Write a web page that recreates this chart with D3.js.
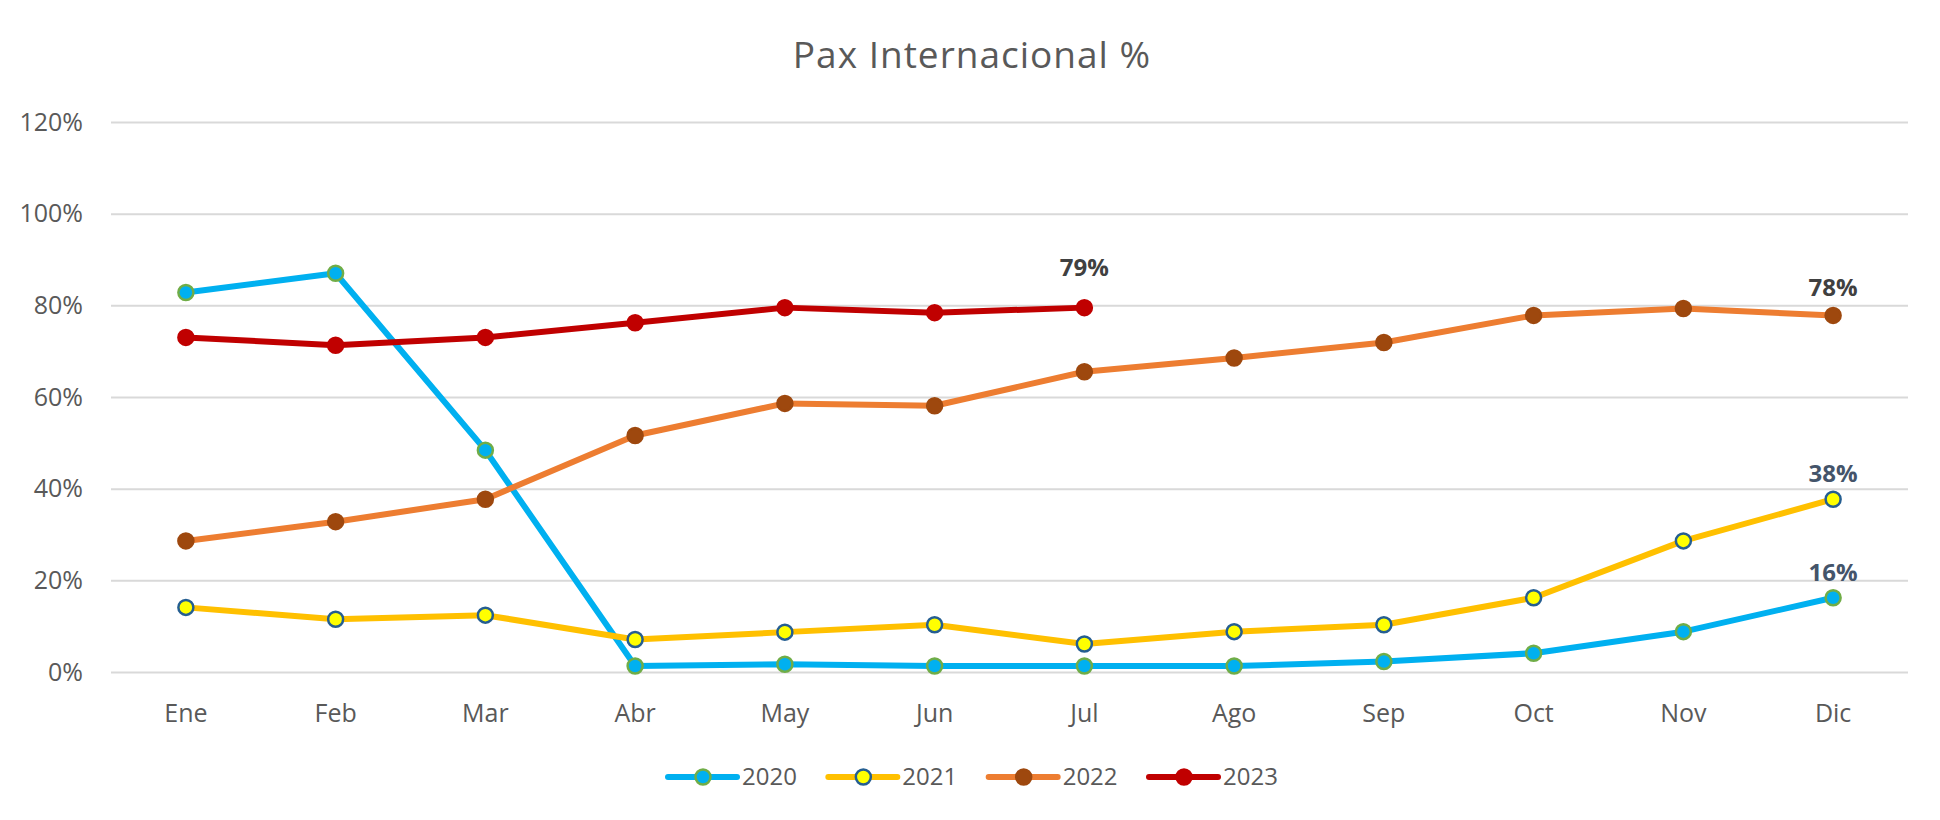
<!DOCTYPE html>
<html>
<head>
<meta charset="utf-8">
<script src="https://cdn.jsdelivr.net/npm/d3@7"></script>
<style>
  body { margin: 0; background: #fff; }
  svg { display: block; font-family: "Open Sans", "Noto Sans", sans-serif; }
</style>
</head>
<body>
<div class="chart"></div>
<script>
// Paramètres
const width = 1940;
const height = 820;
const margin = { top: 122, right: 32, bottom: 148, left: 111 };

// Données (en %)
const meses = ["Ene", "Feb", "Mar", "Abr", "May", "Jun", "Jul", "Ago", "Sep", "Oct", "Nov", "Dic"];
const anios = ["2020", "2021", "2022", "2023"];
const pax2020 = [82.8, 87.0, 48.4, 1.3, 1.7, 1.3, 1.3, 1.3, 2.3, 4.1, 8.8, 16.2];
const pax2021 = [14.1, 11.5, 12.4, 7.1, 8.7, 10.3, 6.1, 8.8, 10.3, 16.2, 28.6, 37.7];
const pax2022 = [28.6, 32.8, 37.7, 51.6, 58.6, 58.1, 65.5, 68.5, 71.9, 77.8, 79.3, 77.8];
const pax2023 = [73.0, 71.3, 73.0, 76.2, 79.5, 78.4, 79.5];
const yTicks = [0, 20, 40, 60, 80, 100, 120];
// étiquettes de valeur : série, index du mois
const etiquetas = [
  { serie: "2023", mes: 6, texto: "79%" },
  { serie: "2022", mes: 11, texto: "78%" },
  { serie: "2021", mes: 11, texto: "38%" },
  { serie: "2020", mes: 11, texto: "16%" }
];

const estilos = {
  "2020": { line: "#00B0F0", fill: "#00B0F0", stroke: "#70AD47", label: "#44546A" },
  "2021": { line: "#FFC000", fill: "#FFFF00", stroke: "#255E91", label: "#44546A" },
  "2022": { line: "#ED7D31", fill: "#9E480E", stroke: "#9E480E", label: "#404040" },
  "2023": { line: "#C00000", fill: "#C00000", stroke: "#C00000", label: "#404040" }
};
const labelLift = { "2023": 40, "2022": 28, "2021": 26, "2020": 25 };

const series = anios.map((a, i) => ({
  anio: a,
  valores: [pax2020, pax2021, pax2022, pax2023][i].map((v, j) => ({ mes: meses[j], v: v }))
}));

const svg = d3.select('.chart')
  .append('svg')
  .attr('width', width)
  .attr('height', height);

const x = d3.scaleBand()
  .domain(meses)
  .range([margin.left, width - margin.right]);

const y = d3.scaleLinear()
  .domain([0, 120])
  .range([height - margin.bottom, margin.top]);

const cx = m => x(m) + x.bandwidth() / 2;

// titre
svg.append('text')
  .attr('x', 972)
  .attr('y', 68)
  .attr('text-anchor', 'middle')
  .style('font-size', '37px')
  .style('letter-spacing', '1px')
  .style('fill', '#595959')
  .text('Pax Internacional %');

// grille + axe Y
svg.append('g')
  .attr('transform', `translate(${margin.left}, 0)`)
  .call(d3.axisLeft(y).tickValues(yTicks).tickFormat(d => d + '%')
    .tickSize(-(width - margin.left - margin.right)).tickPadding(28))
  .call(g => g.select('.domain').remove())
  .call(g => g.selectAll('.tick line').attr('stroke', '#D9D9D9').attr('stroke-width', 2))
  .call(g => g.selectAll('.tick text')
    .style('font-size', '25px').style('fill', '#595959').style('font-family', '"Open Sans", sans-serif'));

// axe X
svg.append('g')
  .attr('transform', `translate(0, ${height - margin.bottom})`)
  .call(d3.axisBottom(x).tickSize(0).tickPadding(32))
  .call(g => g.select('.domain').remove())
  .call(g => g.selectAll('.tick text')
    .style('font-size', '25px').style('fill', '#595959').style('font-family', '"Open Sans", sans-serif'));

const linea = d3.line()
  .x(d => cx(d.mes))
  .y(d => y(d.v));

const grupos = svg.append('g')
  .selectAll('g')
  .data(series)
  .join('g');

grupos.append('path')
  .attr('d', d => linea(d.valores))
  .attr('fill', 'none')
  .attr('stroke', d => estilos[d.anio].line)
  .attr('stroke-width', 6)
  .attr('stroke-linejoin', 'round')
  .attr('stroke-linecap', 'round');

grupos.selectAll('circle')
  .data(d => d.valores.map(p => ({ ...p, anio: d.anio })))
  .join('circle')
    .attr('cx', d => cx(d.mes))
    .attr('cy', d => y(d.v))
    .attr('r', 7.5)
    .attr('fill', d => estilos[d.anio].fill)
    .attr('stroke', d => estilos[d.anio].stroke)
    .attr('stroke-width', 2.5);

// étiquettes
svg.append('g')
  .selectAll('text')
  .data(etiquetas)
  .join('text')
    .attr('x', d => cx(meses[d.mes]))
    .attr('y', d => {
      const s = series.find(s => s.anio === d.serie);
      return y(s.valores[d.mes].v) - labelLift[d.serie];
    })
    .attr('dy', '0.35em')
    .attr('text-anchor', 'middle')
    .style('font-size', '24px')
    .style('font-weight', 'bold')
    .style('fill', d => estilos[d.serie].label)
    .text(d => d.texto);

// légende
const leyendaX = d3.scalePoint()
  .domain(anios)
  .range([668, 1149]);

const leyenda = svg.append('g')
  .attr('transform', 'translate(0, 777)')
  .selectAll('g')
  .data(anios)
  .join('g')
    .attr('transform', d => `translate(${leyendaX(d)}, 0)`);

leyenda.append('line')
  .attr('x1', 0).attr('x2', 69)
  .attr('stroke', d => estilos[d].line)
  .attr('stroke-width', 6)
  .attr('stroke-linecap', 'round');

leyenda.append('circle')
  .attr('cx', 35)
  .attr('r', 7.5)
  .attr('fill', d => estilos[d].fill)
  .attr('stroke', d => estilos[d].stroke)
  .attr('stroke-width', 2.5);

leyenda.append('text')
  .attr('x', 74)
  .attr('dy', '0.35em')
  .style('font-size', '24px')
  .style('fill', '#595959')
  .text(d => d);
</script>
</body>
</html>
